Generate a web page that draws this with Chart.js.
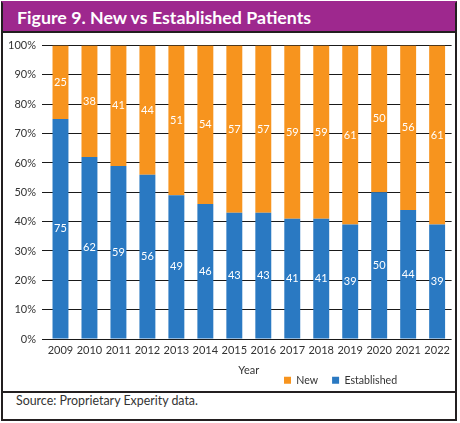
<!DOCTYPE html>
<html>
<head>
<meta charset="utf-8">
<script src="https://cdn.jsdelivr.net/npm/chart.js@4/dist/chart.umd.min.js"></script>
<style>
  html, body { margin: 0; padding: 0; background: #fff; }
  body { width: 460px; height: 423px; position: relative; overflow: hidden; }
  #frame {
    position: absolute; left: 1px; top: 1px; width: 456px; height: 420px;
    box-sizing: border-box; border: 2px solid #231f20; border-top-color: #9e288e;
  }
  #title {
    height: 28px; background: #9e288e; border-bottom: 2px solid #231f20;
    color: #fff; font: bold 17.8px Lato, sans-serif; line-height: 28px; padding-left: 14px;
  }
  #chartbox { position: relative; width: 452px; height: 358px; }
  #source {
    border-top: 2px solid #231f20; height: 26px; line-height: 26px;
    color: #333; font: 12.4px Lato, sans-serif; padding-left: 13px;
  }
</style>
</head>
<body>
<div id="frame">
  <div id="title">Figure 9. New vs Established Patients</div>
  <div id="chartbox"><canvas id="chart" width="452" height="358"></canvas></div>
  <div id="source">Source: Proprietary Experity data.</div>
</div>
<script>
const years = ['2009', '2010', '2011', '2012', '2013', '2014', '2015', '2016', '2017', '2018', '2019', '2020', '2021', '2022'];
const established = [75, 62, 59, 56, 49, 46, 43, 43, 41, 41, 39, 50, 44, 39];
const newPatients = [25, 38, 41, 44, 51, 54, 57, 57, 59, 59, 61, 50, 56, 61];

const FONT = 'Lato, sans-serif';

// white numbers in the middle of each segment
const segmentLabels = {
  id: 'segmentLabels',
  afterDatasetsDraw(chart) {
    const ctx = chart.ctx;
    ctx.save();
    ctx.fillStyle = '#fff';
    ctx.font = '11px ' + FONT;
    ctx.textAlign = 'center';
    ctx.textBaseline = 'middle';
    chart.data.datasets.forEach((ds, i) => {
      chart.getDatasetMeta(i).data.forEach((bar, j) => {
        const p = bar.getProps(['x', 'y', 'base'], true);
        ctx.fillText(ds.data[j], p.x, (p.y + p.base) / 2);
      });
    });
    ctx.restore();
  }
};

// legend sits right of centre in the original
const legendShift = {
  id: 'legendShift',
  beforeDraw(chart) {
    const lg = chart.legend;
    const h = lg.height;
    lg.left = 281 - 14;
    lg.right = chart.width;
    lg.top = 328;
    lg.bottom = lg.top + h;
  }
};

new Chart(document.getElementById('chart'), {
  type: 'bar',
  data: {
    labels: years,
    datasets: [{
      label: 'Established',
      data: established,
      backgroundColor: '#2a79c2',
      barPercentage: 0.55,
      categoryPercentage: 1.0,
    }, {
      label: 'New',
      data: newPatients,
      backgroundColor: '#f7941e',
      barPercentage: 0.55,
      categoryPercentage: 1.0,
    }]
  },
  options: {
    responsive: false,
    animation: false,
    layout: { padding: { left: 5, right: 3, top: 7, bottom: -21 } },
    plugins: {
      legend: {
        position: 'bottom',
        align: 'start',
        labels: {
          boxWidth: 7, boxHeight: 7, padding: 14,
          color: '#333', font: { family: FONT, size: 10.6 },
          sort: (a, b) => b.datasetIndex - a.datasetIndex,
        }
      },
      tooltip: { enabled: false },
    },
    scales: {
      x: {
        stacked: true,
        grid: { display: false, drawTicks: false },
        border: { display: false },
        ticks: { color: '#333', font: { family: FONT, size: 11 }, padding: 5, maxRotation: 0, autoSkip: false },
        title: { display: true, text: 'Year', color: '#333', font: { family: FONT, size: 11 }, padding: { top: 2, bottom: 0 } },
      },
      y: {
        stacked: true,
        min: 0, max: 100,
        grid: { color: '#1a1a1a', lineWidth: 1, tickLength: 4 },
        border: { display: false },
        ticks: { stepSize: 10, color: '#333', font: { family: FONT, size: 11 }, padding: 6, callback: v => v + '%' },
        afterFit(s) { s.width = 38; },
      }
    }
  },
  plugins: [segmentLabels, legendShift]
});
</script>
</body>
</html>
